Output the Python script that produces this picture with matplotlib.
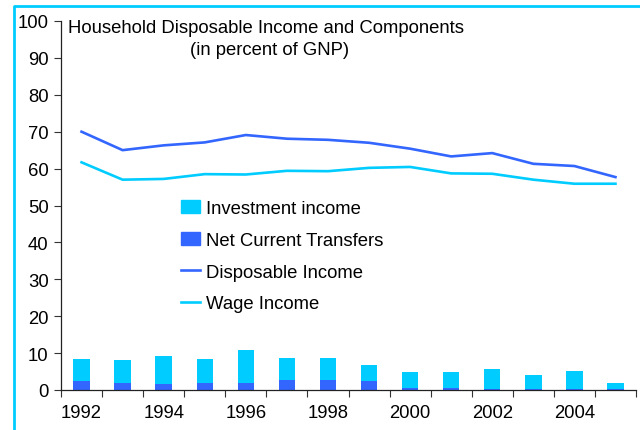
import matplotlib.pyplot as plt
from matplotlib.lines import Line2D
from matplotlib.patches import Patch

plt.rcParams['font.family'] = ['Liberation Sans', 'DejaVu Sans']

years = list(range(1992, 2006))
net_transfers = [2.4, 2.0, 1.75, 2.0, 2.0, 2.6, 2.6, 2.4, 0.65, 0.65, 0.4, 0.4, 0.4, 0.4]
investment = [5.95, 6.05, 7.4, 6.35, 8.8, 6.0, 6.0, 4.3, 4.15, 4.15, 5.2, 3.8, 4.65, 1.6]
disposable = [70.0, 65.0, 66.3, 67.1, 69.1, 68.1, 67.8, 67.0, 65.4, 63.3, 64.2, 61.3, 60.7, 57.7]
wage = [61.7, 57.0, 57.2, 58.5, 58.4, 59.4, 59.3, 60.2, 60.45, 58.7, 58.6, 57.0, 55.9, 55.9]

light = '#00CCFF'
dark = '#3366FF'
fs = 13.3

fig = plt.figure(figsize=(6.4, 4.31), dpi=100)
ax = fig.add_axes([61 / 640, 40 / 431, 575 / 640, 369 / 431])

x = list(range(len(years)))
ax.bar(x, net_transfers, width=0.4, color=dark, zorder=2)
ax.bar(x, investment, width=0.4, bottom=net_transfers, color=light, zorder=2)
ax.plot(x, disposable, color=dark, lw=1.9, zorder=3)
ax.plot(x, wage, color=light, lw=1.9, zorder=3)

ax.set_xlim(-0.5, len(years) - 0.5)
ax.set_ylim(0, 100)
ax.set_yticks(range(0, 101, 10))
ax.set_xticks([i - 0.5 for i in range(len(years) + 1)])
ax.set_xticklabels([])
ax.set_xticks(x[::2], minor=True)
ax.set_xticklabels([str(y) for y in years[::2]], minor=True)
ax.tick_params(axis='x', which='major', direction='out', length=5, width=0.8, color='#333333')
ax.tick_params(axis='x', which='minor', length=0, pad=10, labelsize=fs)
ax.tick_params(axis='y', direction='out', length=5, width=0.8, color='#333333', labelsize=fs, pad=4)

for side in ['top', 'right']:
    ax.spines[side].set_visible(False)
for side in ['left', 'bottom']:
    ax.spines[side].set_color('#222222')
    ax.spines[side].set_linewidth(0.9)

ax.text(68 / 640, 398 / 431, 'Household Disposable Income and Components',
        transform=fig.transFigure, fontsize=fs, va='baseline', ha='left')
ax.text(270 / 640, 376 / 431, '(in percent of GNP)',
        transform=fig.transFigure, fontsize=fs, va='baseline', ha='center')

handles = [Patch(color=light), Patch(color=dark),
           Line2D([], [], color=dark, lw=1.9), Line2D([], [], color=light, lw=1.9)]
labels = ['Investment income', 'Net Current Transfers', 'Disposable Income', 'Wage Income']
ax.legend(handles, labels, loc='upper left', bbox_to_anchor=(0.208, 0.515),
          bbox_transform=ax.transAxes, frameon=False, fontsize=fs,
          handlelength=1.05, handleheight=0.7, handletextpad=0.3, labelspacing=0.8,
          borderaxespad=0, borderpad=0)

# light blue frame on the left and top
fig.add_artist(Line2D([14 / 640, 14 / 640, 1.0], [0.0, 424 / 431, 424 / 431],
                      transform=fig.transFigure, color='#00CCFF', lw=2))

fig.savefig('out.png', dpi=100)
